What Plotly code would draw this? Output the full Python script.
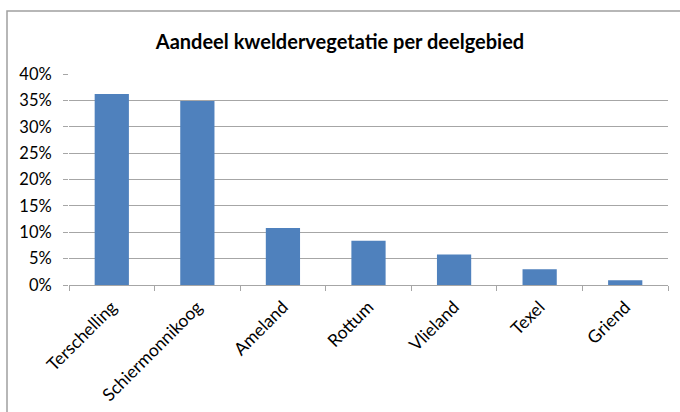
import plotly.graph_objects as go

categories = ["Terschelling", "Schiermonnikoog", "Ameland", "Rottum", "Vlieland", "Texel", "Griend"]
values = [0.362, 0.349, 0.108, 0.084, 0.058, 0.030, 0.009]
tick_vals = [0, 0.05, 0.10, 0.15, 0.20, 0.25, 0.30, 0.35, 0.40]
tick_text = ["0%", "5%", "10%", "15%", "20%", "25%", "30%", "35%", "40%"]
title = "Aandeel kweldervegetatie per deelgebied"

W, H = 680, 412
L, R, T, B = 69, 12, 74, 127
pw, ph = W - L - R, H - T - B

fig = go.Figure(go.Bar(x=categories, y=values, marker=dict(color="#4F81BD", line=dict(width=0))))

font = "Lato, Open Sans, sans-serif"
fig.update_layout(
    width=W, height=H,
    margin=dict(l=L, r=R, t=T, b=B, autoexpand=False),
    paper_bgcolor="white", plot_bgcolor="white",
    bargap=0.6,
    showlegend=False,
    title=dict(text="<b>" + title + "</b>", x=0.5, xanchor="center", y=1 - 42 / H, yanchor="middle",
               font=dict(family=font, size=20, color="#000000")),
    font=dict(family=font, size=16, color="#000000"),
)
fig.update_yaxes(range=[0, 0.40], tickvals=tick_vals, ticktext=tick_text, automargin=False,
                 showgrid=True, gridcolor="#A6A6A6", gridwidth=1,
                 showline=False, zeroline=False, ticks="outside", ticklen=5, tickcolor="#A6A6A6",
                 ticklabelstandoff=8,
                 tickfont=dict(family=font, size=16.5, color="#000000"))
fig.update_xaxes(tickangle=-45, showline=True, linecolor="#A6A6A6", linewidth=1, automargin=False,
                 ticks="outside", ticklen=5, tickcolor="#A6A6A6", tickson="boundaries",
                 ticklabelstandoff=4,
                 tickfont=dict(family=font, size=17.5, color="#000000"))

# chart border
x0 = (7 - L) / pw
x1 = (690 - L) / pw
y1 = (H - B - 11) / ph
y0 = (H - B - 420) / ph
fig.add_shape(type="rect", xref="paper", yref="paper", x0=x0, x1=x1, y0=y0, y1=y1,
              line=dict(color="#A0A0A0", width=1.5), fillcolor="rgba(0,0,0,0)", layer="below")

fig.write_html("out.html")
